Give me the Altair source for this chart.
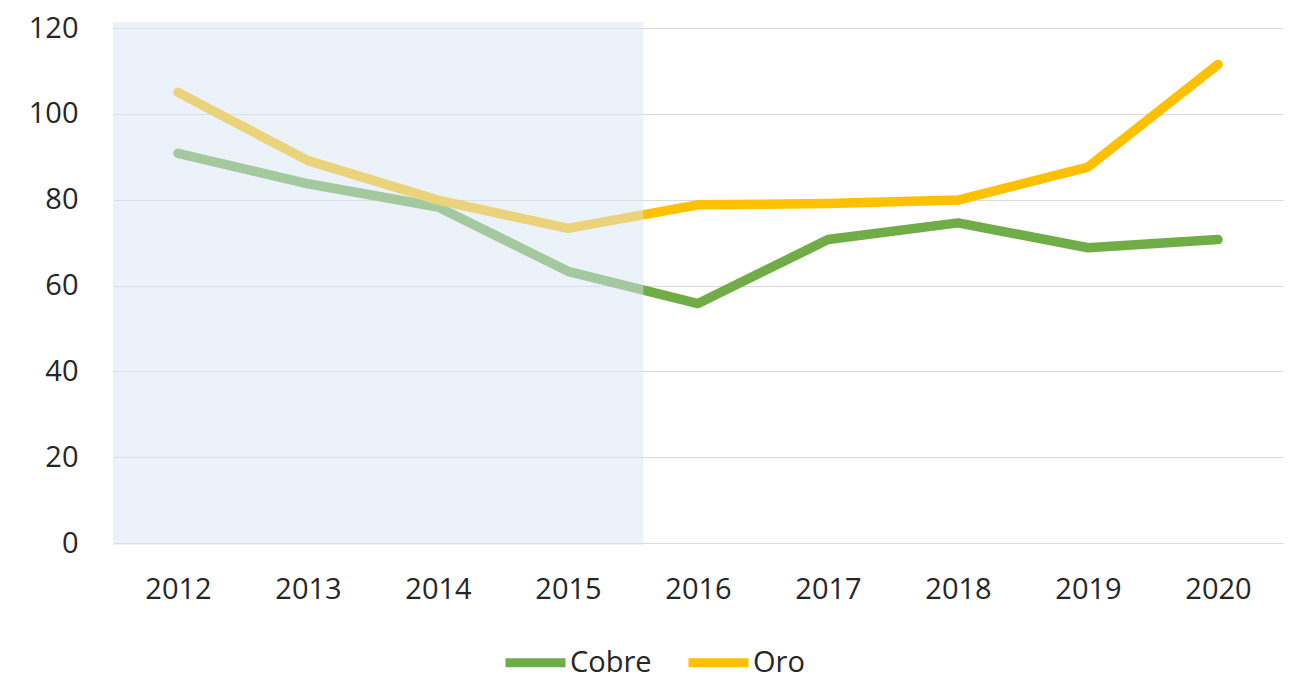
import altair as alt
import pandas as pd

years = [2012, 2013, 2014, 2015, 2016, 2017, 2018, 2019, 2020]
cobre = [90.8, 83.7, 78.3, 63.3, 55.8, 70.7, 74.6, 68.8, 70.7]
oro = [105.0, 89.1, 79.9, 73.3, 78.8, 79.1, 79.9, 87.6, 111.5]
series = ["Cobre", "Oro"]
colors = ["#70AD47", "#FFC000"]
shade_start = [2011.5]
shade_end = [2015.58]

df = pd.DataFrame({
    "year": years * 2,
    "value": cobre + oro,
    "serie": ["Cobre"] * len(years) + ["Oro"] * len(years),
})
shade = pd.DataFrame({"x": shade_start, "x2": shade_end})

FONT = "Open Sans"
xscale = alt.Scale(domain=[2011.5, 2020.5], nice=False, zero=False)
yscale = alt.Scale(domain=[0, 120], nice=False)
xaxis = alt.Axis(values=years, format="d", title=None, grid=False, domain=False,
                 ticks=False, labelFontSize=29, labelFont=FONT, labelColor="#262626",
                 labelPadding=32)

lines = alt.Chart(df).mark_line(strokeWidth=9.5, strokeCap="round", strokeJoin="round").encode(
    x=alt.X("year:Q", scale=xscale, axis=xaxis),
    y=alt.Y("value:Q", scale=yscale,
            axis=alt.Axis(values=[0, 20, 40, 60, 80, 100, 120], title=None, domain=False, ticks=False,
                          gridColor="#D9D9D9", gridWidth=1, labelFontSize=29, labelFont=FONT,
                          labelColor="#262626", labelPadding=35)),
    color=alt.Color("serie:N", scale=alt.Scale(domain=series, range=colors),
                    legend=alt.Legend(title=None, orient="none", direction="horizontal",
                                      legendX=388, legendY=600, symbolType="stroke",
                                      symbolSize=3600, symbolStrokeWidth=9,
                                      labelFontSize=29, labelFont=FONT, labelColor="#262626",
                                      labelOffset=0, columnPadding=18)),
    detail="serie:N",
)

rect = alt.Chart(shade).mark_rect(color="#D8E6F6", opacity=0.5).encode(
    x=alt.X("x:Q", scale=xscale, axis=xaxis),
    x2="x2:Q",
    y=alt.value(-6),
    y2=alt.value(517),
)

chart = alt.layer(lines, rect).properties(
    width=1170, height=515,
    autosize=alt.AutoSizeParams(type="none"),
    padding={"left": 105, "top": 20, "right": 3, "bottom": 150},
    view=alt.ViewBackground(strokeWidth=0, stroke=None),
).configure_view(strokeWidth=0).configure(background="white")

chart.save("out.html", embed_options={"renderer": "svg", "actions": False})
